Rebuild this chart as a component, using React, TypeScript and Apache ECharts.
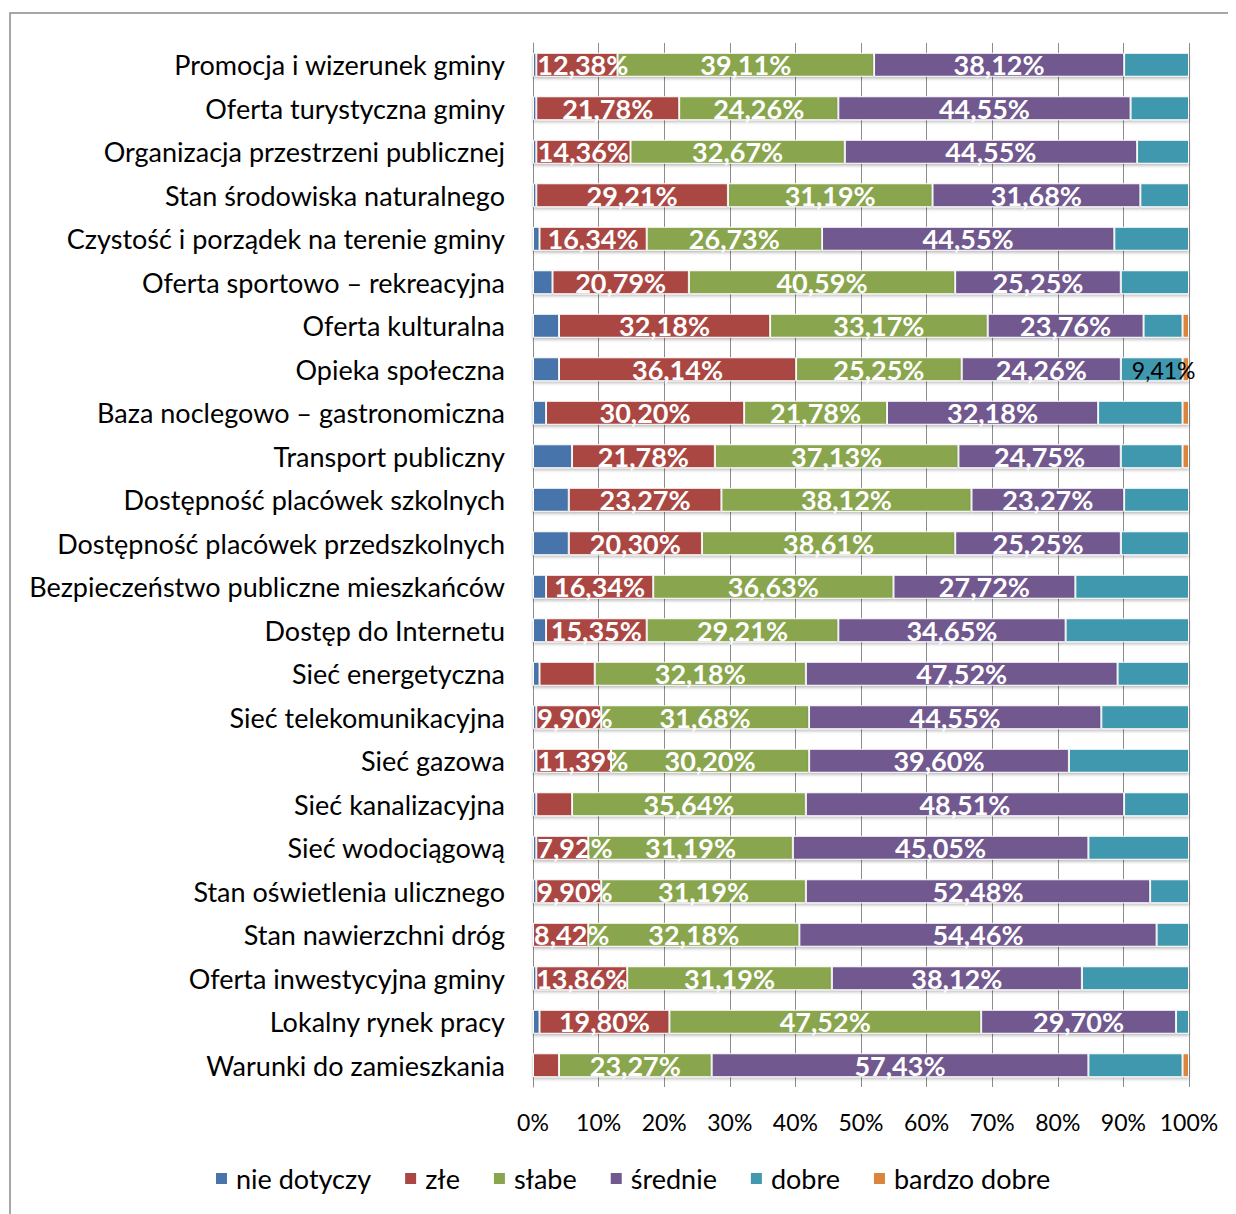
import React, { useEffect, useRef } from "react";
import * as echarts from "echarts";

const categories = [
  "Promocja i wizerunek gminy",
  "Oferta turystyczna gminy",
  "Organizacja przestrzeni publicznej",
  "Stan środowiska naturalnego",
  "Czystość i porządek na terenie gminy",
  "Oferta sportowo – rekreacyjna",
  "Oferta kulturalna",
  "Opieka społeczna",
  "Baza noclegowo – gastronomiczna",
  "Transport publiczny",
  "Dostępność placówek szkolnych",
  "Dostępność placówek przedszkolnych",
  "Bezpieczeństwo publiczne mieszkańców",
  "Dostęp do Internetu",
  "Sieć energetyczna",
  "Sieć telekomunikacyjna",
  "Sieć gazowa",
  "Sieć kanalizacyjna",
  "Sieć wodociągową",
  "Stan oświetlenia ulicznego",
  "Stan nawierzchni dróg",
  "Oferta inwestycyjna gminy",
  "Lokalny rynek pracy",
  "Warunki do zamieszkania",
];

const nieDotyczy = [0.5, 0.5, 0.5, 0.5, 0.99, 2.97, 3.96, 3.96, 1.98, 5.94, 5.45, 5.45, 1.98, 1.98, 0.99, 0.5, 0.5, 0.5, 0.5, 0.5, 0, 0.5, 0.99, 0];
const zle = [12.38, 21.78, 14.36, 29.21, 16.34, 20.79, 32.18, 36.14, 30.2, 21.78, 23.27, 20.3, 16.34, 15.35, 8.42, 9.9, 11.39, 5.45, 7.92, 9.9, 8.42, 13.86, 19.8, 3.96];
const slabe = [39.11, 24.26, 32.67, 31.19, 26.73, 40.59, 33.17, 25.25, 21.78, 37.13, 38.12, 38.61, 36.63, 29.21, 32.18, 31.68, 30.2, 35.64, 31.19, 31.19, 32.18, 31.19, 47.52, 23.27];
const srednie = [38.12, 44.55, 44.55, 31.68, 44.55, 25.25, 23.76, 24.26, 32.18, 24.75, 23.27, 25.25, 27.72, 34.65, 47.52, 44.55, 39.6, 48.51, 45.05, 52.48, 54.46, 38.12, 29.7, 57.43];
const dobre = [9.89, 8.91, 7.92, 7.42, 11.39, 10.4, 5.94, 9.41, 12.87, 9.41, 9.89, 10.39, 17.33, 18.81, 10.89, 13.37, 18.31, 9.9, 15.34, 5.93, 4.94, 16.33, 1.99, 14.35];
const bardzoDobre = [0, 0, 0, 0, 0, 0, 0.99, 0.99, 0.99, 0.99, 0, 0, 0, 0, 0, 0, 0, 0, 0, 0, 0, 0, 0, 0.99];

const zleHiddenLabels = [14, 17, 23];
const dobreShownLabels = [7];

const seriesNames = ["nie dotyczy", "złe", "słabe", "średnie", "dobre", "bardzo dobre"];
const colors = ["#4674AB", "#AA4643", "#89A54E", "#71588F", "#4198AF", "#DB843D"];
const xTicks = [0, 10, 20, 30, 40, 50, 60, 70, 80, 90, 100];

const FONT = "Lato";
const fmt = (v: number) => v.toFixed(2).replace(".", ",") + "%";

export default function App() {
  const ref = useRef<HTMLDivElement>(null);
  useEffect(() => {
    if (!ref.current) return;
    const chart = echarts.init(ref.current, undefined, { renderer: "svg" });
    const whiteLabel = {
      show: true,
      position: "inside",
      color: "#fff",
      fontWeight: "bold",
      fontFamily: FONT,
      fontSize: 27,
      formatter: (p: any) => fmt(p.value),
    };
    const base = (name: string, idx: number, data: any[]) => ({
      name,
      type: "bar",
      stack: "total",
      barWidth: 24,
      itemStyle: {
        color: colors[idx],
        borderColor: "#ffffff",
        borderWidth: 1,
        shadowColor: "rgba(0,0,0,0.25)",
        shadowBlur: 3,
        shadowOffsetY: 2,
      },
      data,
    });
    const series = [
      { ...base(seriesNames[0], 0, nieDotyczy), label: { show: false } },
      {
        ...base(
          seriesNames[1],
          1,
          zle.map((v, i) =>
            zleHiddenLabels.includes(i)
              ? { value: v, label: { show: false } }
              : v < 13
              ? { value: v, label: { position: "insideLeft", distance: 1 } }
              : v
          )
        ),
        label: whiteLabel,
      },
      { ...base(seriesNames[2], 2, slabe), label: whiteLabel },
      { ...base(seriesNames[3], 3, srednie), label: whiteLabel },
      {
        ...base(
          seriesNames[4],
          4,
          dobre.map((v, i) =>
            dobreShownLabels.includes(i)
              ? {
                  value: v,
                  label: {
                    show: true,
                    position: "inside",
                    offset: [12, 1],
                    color: "#000",
                    fontFamily: FONT,
                    fontSize: 23,
                    formatter: (p: any) => fmt(p.value),
                  },
                }
              : v
          )
        ),
        label: { show: false },
      },
      { ...base(seriesNames[5], 5, bardzoDobre), label: { show: false } },
    ];
    chart.setOption({
      animation: false,
      textStyle: { fontFamily: FONT },
      graphic: [
        {
          type: "rect",
          shape: { x: 2, y: 5, width: 1400, height: 1400 },
          style: { fill: "none", stroke: "#8a8a8a", lineWidth: 1.5 },
          silent: true,
        },
      ],
      grid: { left: 525, right: 39, top: 35, height: 1044 },
      xAxis: {
        type: "value",
        min: xTicks[0],
        max: xTicks[xTicks.length - 1],
        interval: 10,
        axisLine: { show: false },
        axisTick: { show: false },
        splitLine: { show: true, lineStyle: { color: "#8c8c8c", width: 1 } },
        axisLabel: {
          formatter: "{value}%",
          color: "#000",
          fontSize: 23,
          fontFamily: FONT,
          margin: 23,
        },
      },
      yAxis: {
        type: "category",
        inverse: true,
        data: categories,
        axisLine: { show: true, lineStyle: { color: "#8c8c8c", width: 1 } },
        axisTick: { show: false },
        axisLabel: { color: "#000", fontSize: 27, fontFamily: FONT, margin: 28 },
      },
      legend: {
        data: seriesNames,
        left: 201,
        top: 1152,
        icon: "rect",
        itemWidth: 13,
        itemHeight: 13,
        itemGap: 32,
        textStyle: { color: "#000", fontSize: 27, fontFamily: FONT, padding: [0, 0, 0, 3] },
      },
      series,
    });
    return () => chart.dispose();
  }, []);
  return <div ref={ref} style={{ width: 1220, height: 1206 }} />;
}
